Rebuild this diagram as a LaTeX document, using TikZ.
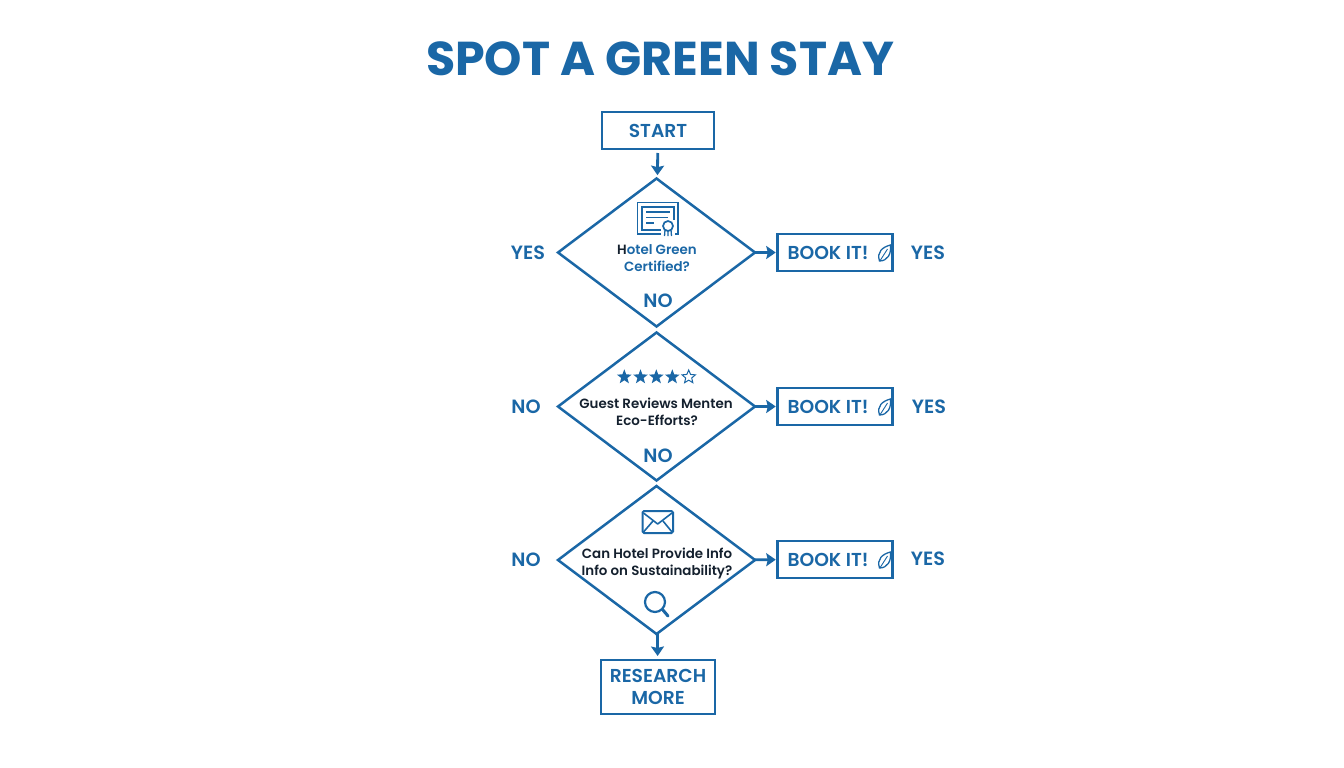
\documentclass[tikz,border=0pt]{standalone}
\usepackage{fontspec}
\setmainfont{Poppins}[BoldFont={Poppins SemiBold}]
\newfontfamily\heavy{Poppins Bold}
\usetikzlibrary{shapes.geometric,arrows.meta}
\definecolor{brand}{HTML}{1A67A6}
\definecolor{ink}{HTML}{14202E}
\newcommand{\fs}[1]{\fontsize{#1}{#1}\selectfont\bfseries}
\tikzset{
  box/.style={draw=brand,line width=2.6pt,fill=white,inner sep=0pt,outer sep=0pt},
  decision/.style={diamond,draw=brand,line width=2.5pt,fill=white,inner sep=0pt,outer sep=0pt,minimum width=197pt,minimum height=148pt},
  flow/.style={draw=brand,line width=2.8pt,-{Stealth[length=9.5pt,width=13pt,inset=1.5pt]}},
  title/.style={anchor=base,text=brand,font={\fontsize{47.5}{47.5}\selectfont\heavy}},
  head/.style={anchor=base,text=brand,font=\fs{18.7}},
  side/.style={anchor=base,text=brand,font=\fs{19.2}},
  ask/.style={anchor=base,text=ink,font=\fs{13.4}},
  icon/.style={draw=brand,line width=1.5pt},
  staron/.style={star,star points=5,star point ratio=2.4,fill=brand,inner sep=0pt,minimum size=15.5pt},
  staroff/.style={star,star points=5,star point ratio=2.2,draw=brand,line width=1pt,fill=white,inner sep=0pt,minimum size=14pt}
}
\newcommand{\leaficon}[2]{\begin{scope}[shift={(#1,#2)}]
  \draw[icon,line width=1.3pt] (-5,8) .. controls (-8,-1) and (-2,-6) .. (6,-8) .. controls (7,1) and (3,8) .. (-5,8) -- cycle;
  \draw[icon,line width=.9pt] (-4,7) -- (3,-4);
\end{scope}}
\begin{document}
\begin{tikzpicture}[x=1pt,y=-1pt]
\useasboundingbox (0,0) rectangle (1344,768);
\fill[white] (0,0) rectangle (1344,768);

\node[title] (ttl) at (660,76) {SPOT A GREEN STAY};

\node[box,minimum width=112pt,minimum height=37pt] (start) at (658,130.5) {};
\node[head] (starttxt) at (658,137) {START};

\node[decision] (d1) at (656.5,252.5) {};
\node[decision] (d2) at (656.5,406.5) {};
\node[decision] (d3) at (656.5,560) {};

\node[box,minimum width=114.5pt,minimum height=37pt] (b1) at (835,252.5) {};
\node[box,minimum width=114.5pt,minimum height=37pt] (b2) at (835,406.5) {};
\node[box,minimum width=114.5pt,minimum height=37pt] (b3) at (835,559.5) {};
\node[box,minimum width=114pt,minimum height=54pt] (res) at (658,687) {};

\draw[flow,shorten <=4pt,shorten >=4pt] (start) -- (d1);
\draw[flow,shorten >=2pt] (d1) -- (b1);
\draw[flow,shorten >=2pt] (d2) -- (b2);
\draw[flow,shorten >=2pt] (d3) -- (b3);
\draw[flow,shorten >=4pt] (d3) -- (res);

\node[head] (b1t) at (828,259) {BOOK IT!};
\node[head] (b2t) at (828,413) {BOOK IT!};
\node[head] (b3t) at (828,566) {BOOK IT!};
\leaficon{884.5}{253}
\leaficon{884.5}{407}
\leaficon{884.5}{560}

\node[head] (r1) at (658,682) {RESEARCH};
\node[head] (r2) at (658,704) {MORE};

\node[side] (l1) at (528,259) {YES};
\node[side] (l2) at (526,413.5) {NO};
\node[side] (l3) at (526,566.5) {NO};
\node[side] (y1) at (928,259) {YES};
\node[side] (y2) at (929,413) {YES};
\node[side] (y3) at (928,565) {YES};
\node[side] (n1) at (658,307) {NO};
\node[side] (n2) at (658,462) {NO};

\node[ask,text=brand] (q1a) at (657,254) {\textcolor{ink}{H}otel Green};
\node[ask,text=brand] (q1b) at (657,271) {Certified?};
\node[ask] (q2a) at (656,408) {Guest Reviews Menten};
\node[ask] (q2b) at (657,425) {Eco-Efforts?};
\node[ask] (q3a) at (657,558) {Can Hotel Provide Info};
\node[ask] (q3b) at (657,575) {Info on Sustainability?};

% certificate
\draw[icon,line width=1.9pt] (637.5,202.5) rectangle (678,234);
\draw[icon,line width=1.1pt] (642,207) rectangle (674,230);
\draw[icon,line width=1.5pt] (646,212) -- (670,212) (646,217.5) -- (668,217.5) (646,223) -- (654,223);
\fill[white] (661,220) rectangle (675,238);
\draw[icon,line width=1.3pt] (665,230) -- (664.5,236) (668,230) -- (668,236) (671,230) -- (671.5,236);
\draw[icon,line width=1.7pt,fill=white] (668,226) circle (5pt);

% stars
\node[staron] (s1) at (624.3,377) {};
\node[staron] (s2) at (640.5,377) {};
\node[staron] (s3) at (656.3,377) {};
\node[staron] (s4) at (672.3,377) {};
\node[staroff] (s5) at (688.7,377) {};

% envelope
\draw[icon,rounded corners=1.5pt,line width=2pt] (642.5,511) rectangle (673,533);
\draw[icon,line width=1.6pt,line join=round] (643.5,513) -- (657.7,524) -- (672,513);
\draw[icon,line width=1.6pt] (643.5,532) -- (653,521) (672,532) -- (663,521);

% magnifier
\draw[icon,line width=2.2pt] (655,602) circle (10pt);
\draw[icon,line width=3pt,line cap=round] (662.5,609.5) -- (668,616);
\end{tikzpicture}
\end{document}
